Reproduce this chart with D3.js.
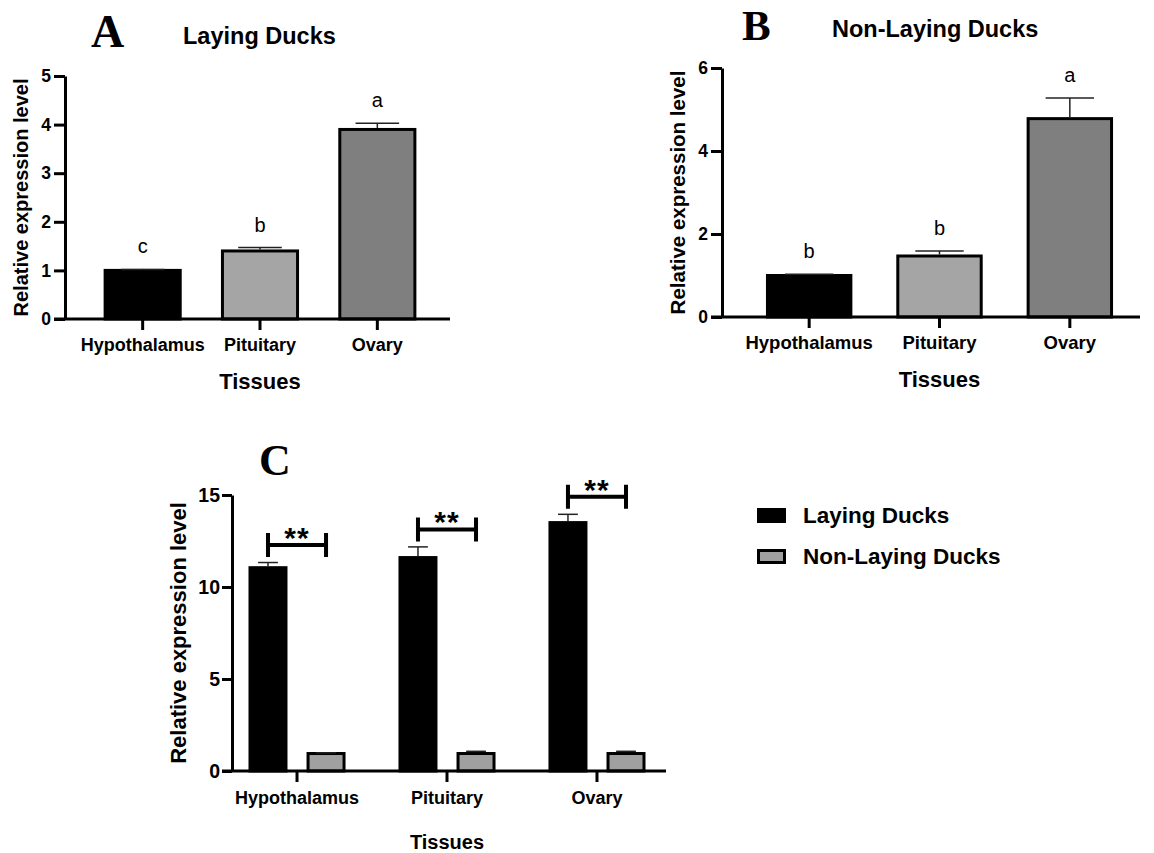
<!DOCTYPE html>
<html>
<head>
<meta charset="utf-8">
<script src="https://cdn.jsdelivr.net/npm/d3@7"></script>
<style>
    body { margin: 0; background: #fff; }
    svg text { font-family: 'Liberation Sans', Arial, sans-serif; }
</style>
</head>
<body>
<svg id="chart" width="1154" height="853"></svg>
<script>
// shared categories
const tissues = ['Hypothalamus', 'Pituitary', 'Ovary'];
const tissueColors = ['#000000', '#a5a5a5', '#7f7f7f'];

// A - laying ducks
const layingMean = [1.0, 1.4, 3.9];
const layingSem = [0.02, 0.07, 0.13];
const layingLetters = ['c', 'b', 'a'];
const layingTicks = [0, 1, 2, 3, 4, 5];

// B - non-laying ducks
const nonLayingMean = [1.0, 1.47, 4.78];
const nonLayingSem = [0.03, 0.12, 0.5];
const nonLayingLetters = ['b', 'b', 'a'];
const nonLayingTicks = [0, 2, 4, 6];

// C - comparison
const groups = ['Laying Ducks', 'Non-Laying Ducks'];
const groupColors = ['#000000', '#a0a0a0'];
const compLaying = [11.05, 11.6, 13.5];
const compLayingSem = [0.28, 0.58, 0.45];
const compNonLaying = [0.95, 0.95, 0.95];
const compNonLayingSem = [0.04, 0.12, 0.12];
const sigMarks = ['**', '**', '**'];
const compTicks = [0, 5, 10, 15];

const svg = d3.select('#chart');
const intFormat = d3.format('d');

function styleAxis(g, fontSize) {
    g.selectAll('path, line').attr('stroke', '#000').attr('stroke-width', 3);
    g.selectAll('text')
        .attr('fill', '#000')
        .attr('font-weight', 'bold')
        .attr('font-size', fontSize + 'px')
        .attr('font-family', "'Liberation Sans', Arial, sans-serif");
}

function drawErrorBar(g, cx, yTop, yBar, capW) {
    g.append('line')
        .attr('x1', cx).attr('x2', cx)
        .attr('y1', yBar).attr('y2', yTop)
        .attr('stroke', '#222').attr('stroke-width', 1.5);
    g.append('line')
        .attr('x1', cx - capW / 2).attr('x2', cx + capW / 2)
        .attr('y1', yTop).attr('y2', yTop)
        .attr('stroke', '#222').attr('stroke-width', 1.5);
}

// panels A and B
function simplePanel(p) {
    const g = svg.append('g');
    const y = d3.scaleLinear()
        .domain([0, d3.max(p.ticks)])
        .range([p.zeroY, p.topY]);
    const x = d3.scaleBand()
        .domain(tissues)
        .range([p.bandL, p.bandR])
        .paddingInner(0.36)
        .paddingOuter(0.18);

    g.selectAll('rect')
        .data(tissues)
        .enter().append('rect')
        .attr('x', d => x(d))
        .attr('width', x.bandwidth())
        .attr('y', (d, i) => y(p.mean[i]))
        .attr('height', (d, i) => y(0) - y(p.mean[i]))
        .attr('fill', (d, i) => tissueColors[i])
        .attr('stroke', '#000')
        .attr('stroke-width', 3);

    tissues.forEach((t, i) => {
        const cx = x(t) + x.bandwidth() / 2;
        drawErrorBar(g, cx, y(p.mean[i] + p.sem[i]), y(p.mean[i]) - 1.5, x.bandwidth() * 0.58);
        g.append('text')
            .attr('x', cx)
            .attr('y', y(p.mean[i] + p.sem[i]) - 16)
            .attr('text-anchor', 'middle')
            .attr('font-size', '20px')
            .text(p.letters[i]);
    });

    // y axis
    g.append('g')
        .attr('transform', `translate(${p.axisX},0)`)
        .call(d3.axisLeft(y).tickValues(p.ticks).tickFormat(intFormat)
            .tickSize(11).tickSizeOuter(0).tickPadding(3))
        .call(a => styleAxis(a, p.tickFont));

    // x axis
    g.append('line')
        .attr('x1', p.axisX - 11).attr('x2', p.axisEnd)
        .attr('y1', y(0)).attr('y2', y(0))
        .attr('stroke', '#000').attr('stroke-width', 3);
    g.append('g')
        .attr('transform', `translate(0,${y(0)})`)
        .call(d3.axisBottom(x).tickSize(11).tickSizeOuter(0).tickPadding(8))
        .call(a => a.select('.domain').remove())
        .call(a => styleAxis(a, p.catFont));

    g.append('text')
        .attr('transform', `translate(${p.yLabelX},${(p.zeroY + p.topY) / 2}) rotate(-90)`)
        .attr('text-anchor', 'middle')
        .attr('font-weight', 'bold')
        .attr('font-size', p.yLabelFont + 'px')
        .text('Relative expression level');

    g.append('text')
        .attr('x', (p.bandL + p.bandR) / 2)
        .attr('y', p.zeroY + 70)
        .attr('text-anchor', 'middle')
        .attr('font-weight', 'bold')
        .attr('font-size', '22px')
        .text('Tissues');

    g.append('text')
        .attr('x', p.letterX).attr('y', p.letterY)
        .style('font-family', "'Liberation Serif', 'Times New Roman', serif")
        .attr('font-weight', 'bold')
        .attr('font-size', p.letterFont + 'px')
        .text(p.letter);

    g.append('text')
        .attr('x', p.titleX).attr('y', p.titleY)
        .attr('font-weight', 'bold')
        .attr('font-size', '23.5px')
        .text(p.title);
}

simplePanel({
    mean: layingMean, sem: layingSem, letters: layingLetters, ticks: layingTicks,
    zeroY: 319, topY: 76, axisX: 65, axisEnd: 450, bandL: 84, bandR: 436,
    tickFont: 17.5, catFont: 18, yLabelFont: 20, yLabelX: 28,
    letter: 'A', letterFont: 46, letterX: 91, letterY: 47, title: 'Laying Ducks', titleX: 183, titleY: 44
});

simplePanel({
    mean: nonLayingMean, sem: nonLayingSem, letters: nonLayingLetters, ticks: nonLayingTicks,
    zeroY: 317, topY: 68, axisX: 722, axisEnd: 1140, bandL: 744, bandR: 1135,
    tickFont: 17.5, catFont: 18.5, yLabelFont: 20.5, yLabelX: 685,
    letter: 'B', letterFont: 43, letterX: 742, letterY: 40, title: 'Non-Laying Ducks', titleX: 832, titleY: 37
});

// panel C - grouped bars
const gC = svg.append('g');
const yC = d3.scaleLinear().domain([0, 15]).range([771, 495]);
const x0 = d3.scaleBand()
    .domain(tissues)
    .range([232, 662])
    .paddingInner(0.373)
    .paddingOuter(0.12);
const x1 = d3.scaleBand()
    .domain(groups)
    .range([0, x0.bandwidth()])
    .paddingInner(0.38);

const seriesC = [
    { name: groups[0], values: compLaying, sem: compLayingSem, color: groupColors[0] },
    { name: groups[1], values: compNonLaying, sem: compNonLayingSem, color: groupColors[1] }
];

seriesC.forEach(s => {
    gC.append('g')
        .selectAll('rect')
        .data(tissues)
        .enter().append('rect')
        .attr('x', d => x0(d) + x1(s.name))
        .attr('width', x1.bandwidth())
        .attr('y', (d, i) => yC(s.values[i]))
        .attr('height', (d, i) => yC(0) - yC(s.values[i]))
        .attr('fill', s.color)
        .attr('stroke', '#000')
        .attr('stroke-width', 3);
    tissues.forEach((t, i) => {
        const cx = x0(t) + x1(s.name) + x1.bandwidth() / 2;
        drawErrorBar(gC, cx, yC(s.values[i] + s.sem[i]), yC(s.values[i]) - 1.5, x1.bandwidth() * 0.55);
    });
});

// significance brackets
tissues.forEach((t, i) => {
    const xa = x0(t) + x1(groups[0]) + x1.bandwidth() / 2;
    const xb = x0(t) + x1(groups[1]) + x1.bandwidth() / 2;
    const yb = yC(compLaying[i] + compLayingSem[i] + 0.95);
    gC.append('path')
        .attr('d', `M${xa},${yb - 12}V${yb + 12}M${xa},${yb}H${xb}M${xb},${yb - 12}V${yb + 12}`)
        .attr('fill', 'none')
        .attr('stroke', '#000')
        .attr('stroke-width', 4);
    gC.append('text')
        .attr('x', (xa + xb) / 2)
        .attr('y', yb + 3)
        .attr('text-anchor', 'middle')
        .attr('font-weight', 'bold')
        .attr('font-size', '30px')
        .attr('letter-spacing', '1px')
        .text(sigMarks[i]);
});

gC.append('g')
    .attr('transform', 'translate(232,0)')
    .call(d3.axisLeft(yC).tickValues(compTicks).tickFormat(intFormat)
        .tickSize(10).tickSizeOuter(0).tickPadding(2))
    .call(a => styleAxis(a, 19.5));

gC.append('line')
    .attr('x1', 222).attr('x2', 666)
    .attr('y1', yC(0)).attr('y2', yC(0))
    .attr('stroke', '#000').attr('stroke-width', 3);
gC.append('g')
    .attr('transform', `translate(0,${yC(0)})`)
    .call(d3.axisBottom(x0).tickSize(11).tickSizeOuter(0).tickPadding(9))
    .call(a => a.select('.domain').remove())
    .call(a => styleAxis(a, 18));

gC.append('text')
    .attr('transform', 'translate(186,633) rotate(-90)')
    .attr('text-anchor', 'middle')
    .attr('font-weight', 'bold')
    .attr('font-size', '22px')
    .text('Relative expression level');

gC.append('text')
    .attr('x', 447).attr('y', 849)
    .attr('text-anchor', 'middle')
    .attr('font-weight', 'bold')
    .attr('font-size', '20px')
    .text('Tissues');

gC.append('text')
    .attr('x', 259).attr('y', 475)
    .style('font-family', "'Liberation Serif', 'Times New Roman', serif")
    .attr('font-weight', 'bold')
    .attr('font-size', '44px')
    .text('C');

// legend
const legend = gC.append('g').attr('transform', 'translate(757,508)');
groups.forEach((name, i) => {
    legend.append('rect')
        .attr('x', 1.5).attr('y', i * 41 + 1.5)
        .attr('width', 26).attr('height', 12)
        .attr('fill', groupColors[i])
        .attr('stroke', '#000')
        .attr('stroke-width', 3);
    legend.append('text')
        .attr('x', 46).attr('y', i * 41 + 15)
        .attr('font-weight', 'bold')
        .attr('font-size', '22.5px')
        .text(name);
});
</script>
</body>
</html>
